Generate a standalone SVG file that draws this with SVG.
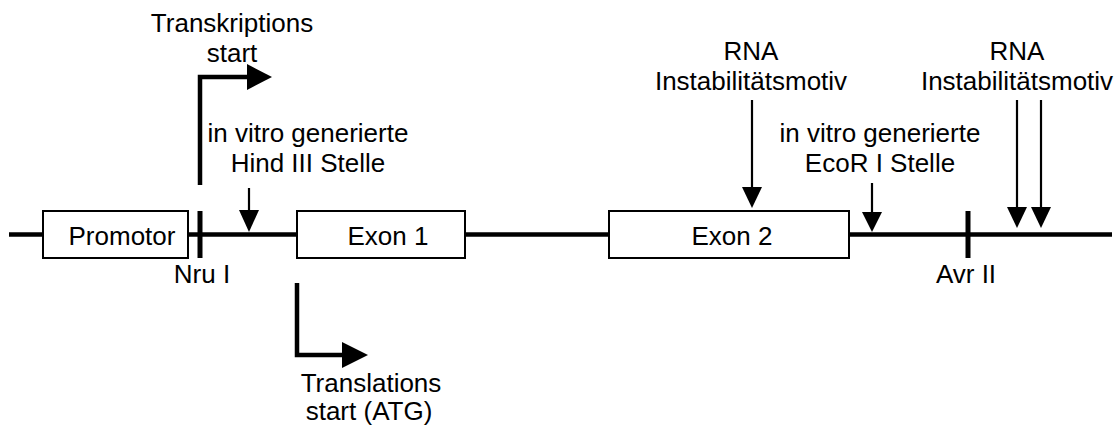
<svg xmlns="http://www.w3.org/2000/svg" width="1120" height="427" viewBox="0 0 1120 427">
<style>
text{font-family:"Liberation Sans",Arial,sans-serif;font-size:26px;fill:#000;text-anchor:middle}
.box{fill:#fff;stroke:#000;stroke-width:2}
.thick{fill:none;stroke:#000;stroke-width:4.5}
.thin{fill:none;stroke:#000;stroke-width:2.2}
.tick{stroke:#000;stroke-width:5}
.head{fill:#000}
</style>
<rect width="1120" height="427" fill="#fff"/>
<g id="connectors">
<line class="thick" x1="9" y1="234.5" x2="1112" y2="234.5"/>
<path class="thick" d="M200,185 V77 H249"/>
<polygon class="head" points="247,64 272,77 247,90"/>
<path class="thick" d="M297,283 V355 H344"/>
<polygon class="head" points="342,342 368,355 342,368"/>
<line class="thin" x1="249" y1="188" x2="249" y2="212"/>
<polygon class="head" points="239,210 259,210 249,232"/>
<line class="thin" x1="752" y1="100" x2="752" y2="190"/>
<polygon class="head" points="742,187 762,187 752,208"/>
<line class="thin" x1="872" y1="183" x2="872" y2="214"/>
<polygon class="head" points="862,212 882,212 872,232"/>
<line class="thin" x1="1017" y1="100" x2="1017" y2="210"/>
<polygon class="head" points="1007,207 1027,207 1017,228"/>
<line class="thin" x1="1041" y1="100" x2="1041" y2="210"/>
<polygon class="head" points="1031,207 1051,207 1041,228"/>
</g>
<g id="promotor"><rect class="box" x="43" y="211" width="145" height="47"/><text x="122" y="245">Promotor</text></g>
<g id="exon1"><rect class="box" x="297" y="211" width="168" height="47"/><text x="388" y="245">Exon 1</text></g>
<g id="exon2"><rect class="box" x="609" y="211" width="240" height="47"/><text x="732" y="245">Exon 2</text></g>
<g id="nru1"><line class="tick" x1="200" y1="211" x2="200" y2="258"/><text x="202" y="283">Nru I</text></g>
<g id="avr2"><line class="tick" x1="968" y1="211" x2="968" y2="258"/><text x="966" y="283">Avr II</text></g>
<g id="transkriptionsstart"><text x="232" y="32">Transkriptions</text><text x="232" y="62">start</text></g>
<g id="hind3"><text x="308" y="142">in vitro generierte</text><text x="308" y="172">Hind III Stelle</text></g>
<g id="rna1"><text x="751" y="60">RNA</text><text x="751" y="90">Instabilitätsmotiv</text></g>
<g id="ecor1"><text x="880" y="142">in vitro generierte</text><text x="880" y="172">EcoR I Stelle</text></g>
<g id="rna2"><text x="1017" y="60">RNA</text><text x="1017" y="90">Instabilitätsmotiv</text></g>
<g id="translationsstart"><text x="371" y="392">Translations</text><text x="369" y="420">start (ATG)</text></g>
</svg>
